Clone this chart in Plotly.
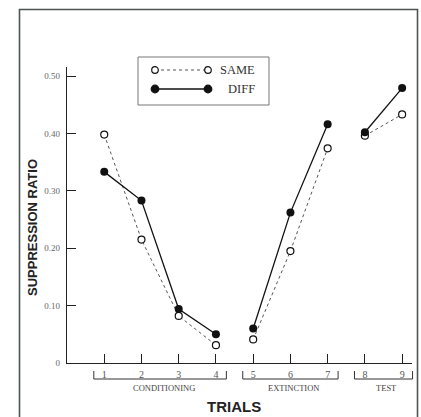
import plotly.graph_objects as go

# Trial-by-trial suppression ratios for the two groups
trials = [1, 2, 3, 4, 5, 6, 7, 8, 9]
same = [0.398, 0.215, 0.082, 0.031, 0.041, 0.195, 0.374, 0.396, 0.433]
diff = [0.333, 0.283, 0.094, 0.050, 0.060, 0.262, 0.416, 0.402, 0.479]
phase = ["CONDITIONING"] * 4 + ["EXTINCTION"] * 3 + ["TEST"] * 2

y_ticks = [0, 0.10, 0.20, 0.30, 0.40, 0.50]
y_tick_text = ["0", "0.10", "0.20", "0.30", "0.40", "0.50"]

W, H = 421, 417
L, R, T, B = 67, 9, 67, 54
X_RANGE = [0.0, 9.265]
Y_RANGE = [0.0, 0.5157]

SERIF = "Liberation Serif"
SANS = "Liberation Sans"


def px_x(px):
    return (px - L) / (W - L - R)


def px_y(py):
    return (H - B - py) / (H - T - B)


def trial_to_paper(t):
    return (t - X_RANGE[0]) / (X_RANGE[1] - X_RANGE[0])


def split_by_phase(xs, ys):
    """Insert gaps so lines only join trials within the same phase."""
    ox, oy = [], []
    for i, (x, y) in enumerate(zip(xs, ys)):
        if i > 0 and phase[i] != phase[i - 1]:
            ox.append(None)
            oy.append(None)
        ox.append(x)
        oy.append(y)
    return ox, oy


fig = go.Figure()

sx, sy = split_by_phase(trials, same)
dx, dy = split_by_phase(trials, diff)

fig.add_trace(go.Scatter(
    x=sx, y=sy, mode="lines+markers", name="SAME", connectgaps=False,
    line=dict(color="#555555", width=1, dash="dot"),
    marker=dict(symbol="circle", size=7, color="white",
                line=dict(color="#111111", width=1.2)),
    showlegend=False, cliponaxis=False,
))
fig.add_trace(go.Scatter(
    x=dx, y=dy, mode="lines+markers", name="DIFF", connectgaps=False,
    line=dict(color="#111111", width=1.3),
    marker=dict(symbol="circle", size=8, color="#111111"),
    showlegend=False, cliponaxis=False,
))

shapes = []
annotations = []

# Outer frame around the figure
shapes.append(dict(type="rect", xref="paper", yref="paper",
                   x0=px_x(19.5), x1=px_x(417.5), y0=px_y(430), y1=px_y(9.5),
                   line=dict(color="#4c5650", width=1.6), layer="below"))

# Phase brackets under the trial numbers
pad = 0.28
bracket_y = px_y(379)
bracket_top = px_y(371)
for name in ["CONDITIONING", "EXTINCTION", "TEST"]:
    ts = [t for t, p in zip(trials, phase) if p == name]
    x0 = trial_to_paper(min(ts) - pad)
    x1 = trial_to_paper(max(ts) + pad)
    path = (f"M {x0},{bracket_top} L {x0},{bracket_y} "
            f"L {x1},{bracket_y} L {x1},{bracket_top}")
    shapes.append(dict(type="path", xref="paper", yref="paper", path=path,
                       line=dict(color="#333333", width=1)))
    annotations.append(dict(
        xref="paper", yref="paper", x=(x0 + x1) / 2 + 0.01, y=px_y(388),
        text=name, showarrow=False, xanchor="center", yanchor="middle",
        font=dict(family=SERIF, size=8.5, color="#444444")))

# Legend box drawn by hand so each sample has markers at both ends
shapes.append(dict(type="rect", xref="paper", yref="paper",
                   x0=px_x(138), x1=px_x(269), y0=px_y(105), y1=px_y(57),
                   line=dict(color="#777777", width=1)))
legend_rows = [
    ("SAME", 70, dict(color="#555555", width=1, dash="dot"), "white", 3.3),
    ("DIFF", 89, dict(color="#111111", width=1.3), "#111111", 3.8),
]
for label, py, lstyle, fill, rad in legend_rows:
    shapes.append(dict(type="line", xref="paper", yref="paper",
                       x0=px_x(155), x1=px_x(208), y0=px_y(py), y1=px_y(py),
                       line=lstyle))
    for cx in (155, 208):
        shapes.append(dict(type="circle", xref="paper", yref="paper",
                           x0=px_x(cx - rad), x1=px_x(cx + rad),
                           y0=px_y(py + rad), y1=px_y(py - rad),
                           fillcolor=fill, line=dict(color="#111111", width=1.2)))
    annotations.append(dict(
        xref="paper", yref="paper", x=px_x(257), y=px_y(py),
        text=label, showarrow=False, xanchor="right", yanchor="middle",
        font=dict(family=SERIF, size=12.5, color="#333333")))

# Axis titles
annotations.append(dict(
    xref="paper", yref="paper", x=px_x(33), y=px_y(228),
    text="<b>SUPPRESSION RATIO</b>", textangle=-90, showarrow=False,
    xanchor="center", yanchor="middle",
    font=dict(family=SANS, size=13, color="#222222")))
annotations.append(dict(
    xref="paper", yref="paper", x=px_x(234), y=px_y(406),
    text="<b>TRIALS</b>", showarrow=False,
    xanchor="center", yanchor="middle",
    font=dict(family=SANS, size=15, color="#222222")))

fig.update_layout(
    width=W, height=H,
    margin=dict(l=L, r=R, t=T, b=B, autoexpand=False),
    paper_bgcolor="white", plot_bgcolor="white",
    shapes=shapes, annotations=annotations,
    showlegend=False,
    xaxis=dict(
        range=X_RANGE, tickvals=trials, ticktext=[str(t) for t in trials],
        ticks="inside", ticklen=9, tickwidth=1.1, tickcolor="#222222",
        showline=True, linecolor="#222222", linewidth=1.3,
        showgrid=False, zeroline=False, fixedrange=True,
        tickfont=dict(family=SERIF, size=10, color="#555555"),
        ticklabelstandoff=2,
    ),
    yaxis=dict(
        range=Y_RANGE, tickvals=y_ticks, ticktext=y_tick_text,
        ticks="inside", ticklen=9, tickwidth=1.1, tickcolor="#222222",
        showline=True, linecolor="#222222", linewidth=1.3,
        showgrid=False, zeroline=False, fixedrange=True,
        tickfont=dict(family=SERIF, size=9, color="#666666"),
        ticklabelstandoff=4,
    ),
)

fig.write_html("out.html")
